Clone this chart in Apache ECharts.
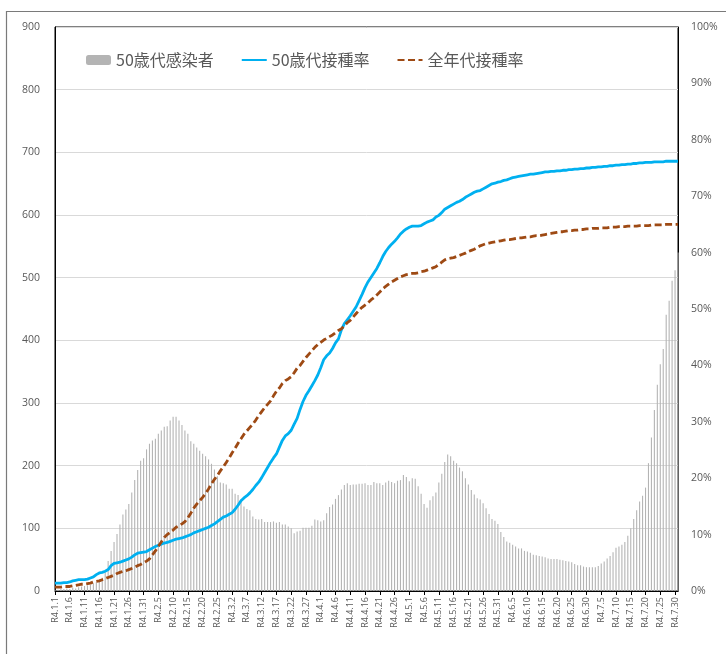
<!DOCTYPE html>
<html><head><meta charset="utf-8">
<script src="https://cdn.jsdelivr.net/npm/echarts@6/dist/echarts.min.js"></script>
<style>html,body{margin:0;padding:0;background:#fff}#c{width:726px;height:654px}</style>
</head><body><div id="c"></div>
<script>
// Categories: R4.1.1 .. R4.7.31 (daily)
const monthLengths = [31, 28, 31, 30, 31, 30, 31];
const categories = [];
monthLengths.forEach((n, i) => { for (let d = 1; d <= n; d++) categories.push('R4.' + (i + 1) + '.' + d); });

const leftTicks = [0, 100, 200, 300, 400, 500, 600, 700, 800, 900];
const rightTicks = [0, 10, 20, 30, 40, 50, 60, 70, 80, 90, 100];

const seriesNames = ['50歳代感染者', '50歳代接種率', '全年代接種率'];

// 50歳代感染者 (daily, persons)
const infected50 = [
  2,2,3,3,4, 3,5,4,6,7, 8,9,10,12,14, 18,21,30,48,64,
  78,91,106,122,130, 139,157,177,193,208, 212,226,235,240,243, 251,256,262,263,272,
  278,278,272,265,256, 251,239,235,229,224, 219,215,210,203,194, 183,173,172,170,163,
  163,155,153,146,135, 131,129,119,115,114, 115,110,110,110,111, 109,110,106,106,103,
  100,92,95,96,101, 101,101,104,114,113, 111,113,124,134,138, 147,153,162,169,172,
  169,170,170,171,171, 172,169,169,174,172, 172,169,173,176,174, 172,176,177,185,182,
  175,180,179,167,155, 139,133,145,151,157, 173,187,206,218,215, 208,204,197,191,180,
  170,161,154,148,146, 140,132,123,115,112, 107,94,86,79,77, 74,71,68,68,64,
  63,61,58,57,56, 55,54,52,51,51, 51,50,49,48,47, 46,43,41,41,39,
  38,38,38,38,40, 44,47,52,56,62, 69,71,74,78,88, 100,115,129,143,152,
  165,204,245,289,329, 362,386,441,463,495, 512,540
];

// 50歳代接種率 (%)
const rate50 = [
  1.4,1.4,1.4,1.5,1.5, 1.6,1.8,1.9,2.0,2.0, 2.0,2.1,2.3,2.5,2.9, 3.2,3.3,3.5,3.8,4.5,
  4.9,5.0,5.1,5.3,5.5, 5.7,6.0,6.4,6.7,6.8, 6.9,7.0,7.3,7.6,7.9, 8.1,8.3,8.5,8.6,8.8,
  9.0,9.2,9.3,9.4,9.6, 9.8,10.0,10.3,10.5,10.7, 10.9,11.1,11.3,11.6,11.9, 12.3,12.7,13.1,13.3,13.6,
  13.9,14.5,15.2,16.0,16.5, 16.9,17.4,18.0,18.7,19.3, 20.1,21.0,21.9,22.8,23.6, 24.3,25.5,26.7,27.5,27.9,
  28.5,29.6,30.6,32.2,33.6, 34.7,35.5,36.4,37.3,38.3, 39.6,41.0,41.7,42.2,43.0, 44.0,44.7,46.3,47.4,48.1,
  48.8,49.6,50.4,51.5,52.6, 53.8,54.8,55.6,56.4,57.2, 58.2,59.3,60.2,60.9,61.5, 62.0,62.6,63.3,63.8,64.2,
  64.5,64.7,64.7,64.7,64.8, 65.1,65.4,65.6,65.8,66.3, 66.6,67.1,67.7,68.0,68.3, 68.6,68.9,69.1,69.4,69.8,
  70.1,70.4,70.7,70.9,71.0, 71.3,71.6,71.9,72.2,72.3, 72.5,72.6,72.8,72.9,73.1, 73.3,73.4,73.5,73.6,73.7,
  73.8,73.9,73.9,74.0,74.1, 74.2,74.3,74.3,74.4,74.4, 74.5,74.5,74.6,74.6,74.7, 74.7,74.8,74.8,74.9,74.9,
  75.0,75.0,75.1,75.1,75.2, 75.2,75.3,75.3,75.4,75.4, 75.5,75.5,75.6,75.6,75.7, 75.7,75.8,75.8,75.9,75.9,
  76.0,76.0,76.0,76.1,76.1, 76.1,76.1,76.2,76.2,76.2, 76.2,76.2
];

// 全年代接種率 (%)
const rateAll = [
  0.7,0.7,0.7,0.8,0.8, 0.8,0.9,1.0,1.1,1.2, 1.2,1.3,1.4,1.6,1.7, 1.8,2.0,2.2,2.4,2.6,
  2.8,3.1,3.3,3.5,3.6, 3.8,4.0,4.2,4.5,4.7, 5.0,5.3,5.7,6.4,7.1, 7.9,8.7,9.5,10.0,10.4,
  10.8,11.3,11.6,11.9,12.3, 13.0,13.8,14.7,15.4,16.0, 16.6,17.3,18.1,19.0,19.8, 20.5,21.3,22.0,22.8,23.6,
  24.5,25.3,26.2,27.0,27.8, 28.4,29.0,29.6,30.3,31.1, 31.8,32.5,33.1,33.7,34.6, 35.4,36.0,36.8,37.3,37.6,
  38.0,38.7,39.5,40.0,40.7, 41.4,42.0,42.6,43.2,43.7, 44.1,44.5,44.8,45.1,45.4, 45.8,46.2,46.5,47.0,47.6,
  48.0,48.6,49.2,49.8,50.3, 50.7,51.1,51.6,52.0,52.5, 53.0,53.6,54.0,54.4,54.8, 55.1,55.4,55.7,55.9,56.1,
  56.2,56.3,56.3,56.4,56.6, 56.7,56.9,57.1,57.3,57.5, 57.9,58.3,58.7,58.9,59.0, 59.1,59.3,59.5,59.7,59.9,
  60.2,60.4,60.6,60.9,61.2, 61.4,61.6,61.7,61.8,61.9, 62.0,62.1,62.2,62.3,62.3, 62.4,62.5,62.6,62.6,62.7,
  62.8,62.8,62.9,63.0,63.0, 63.1,63.2,63.3,63.4,63.5, 63.6,63.7,63.7,63.8,63.9, 63.9,64.0,64.0,64.1,64.1,
  64.2,64.2,64.3,64.3,64.3, 64.4,64.4,64.4,64.5,64.5, 64.5,64.6,64.6,64.6,64.7, 64.7,64.7,64.7,64.8,64.8,
  64.8,64.8,64.9,64.9,64.9, 64.9,64.9,65.0,65.0,65.0, 65.0,65.0
];

const chart = echarts.init(document.getElementById('c'), null, { renderer: 'canvas' });
const numFont = "'Open Sans', 'Noto Sans', sans-serif";
const textGray = '#595959';

chart.setOption({
  animation: false,
  backgroundColor: '#ffffff',
  graphic: [{
    type: 'rect', silent: true, z: -10,
    shape: { x: 6.5, y: 11.5, width: 900, height: 900 },
    style: { fill: 'none', stroke: '#7a7a7a', lineWidth: 1.2 }
  }],
  grid: { left: 55, right: 48, top: 27, bottom: 63, show: true, borderColor: '#000', borderWidth: 1, containLabel: false },
  legend: {
    data: [
      { name: seriesNames[0] },
      { name: seriesNames[1], itemStyle: { opacity: 0 } },
      { name: seriesNames[2], itemStyle: { opacity: 0 } }
    ],
    left: 86, top: 52, padding: 0,
    itemWidth: 25, itemHeight: 10, itemGap: 27,
    textStyle: { color: textGray, fontSize: 16, fontFamily: "'Noto Sans CJK JP', 'Open Sans', sans-serif" }
  },
  xAxis: {
    type: 'category', data: categories, boundaryGap: false,
    axisLine: { lineStyle: { color: '#000', width: 1 } },
    axisTick: { show: true, interval: 4, length: 4, lineStyle: { color: '#000' } },
    axisLabel: { interval: 4, rotate: 90, margin: 6, color: textGray, fontSize: 9, fontFamily: numFont },
    splitLine: { show: false }
  },
  yAxis: [{
    type: 'value', min: leftTicks[0], max: leftTicks[leftTicks.length - 1], interval: 100,
    axisLine: { show: true, lineStyle: { color: '#000' } },
    axisTick: { show: false },
    axisLabel: { margin: 15, color: textGray, fontSize: 10.5, fontFamily: numFont },
    splitLine: { show: true, lineStyle: { color: '#d9d9d9', width: 1 } }
  }, {
    type: 'value', min: rightTicks[0], max: rightTicks[rightTicks.length - 1], interval: 10,
    position: 'right',
    axisLine: { show: true, lineStyle: { color: '#000' } },
    axisTick: { show: false },
    axisLabel: { margin: 13, color: textGray, fontSize: 10.5, fontFamily: numFont, formatter: '{value}%' },
    splitLine: { show: false }
  }],
  series: [{
    name: seriesNames[0], type: 'bar', data: infected50, yAxisIndex: 0,
    barWidth: 1.1, itemStyle: { color: '#b4b4b4' }, z: 1
  }, {
    name: seriesNames[1], type: 'line', data: rate50, yAxisIndex: 1,
    symbol: 'none', showSymbol: false,
    lineStyle: { color: '#00b0f0', width: 2.8 }, itemStyle: { color: '#00b0f0' }, z: 3
  }, {
    name: seriesNames[2], type: 'line', data: rateAll, yAxisIndex: 1,
    symbol: 'none', showSymbol: false,
    lineStyle: { color: '#9e4a14', width: 2.8, type: [7, 3.5] }, itemStyle: { color: '#9e4a14' }, z: 4
  }]
});
</script>
</body></html>
